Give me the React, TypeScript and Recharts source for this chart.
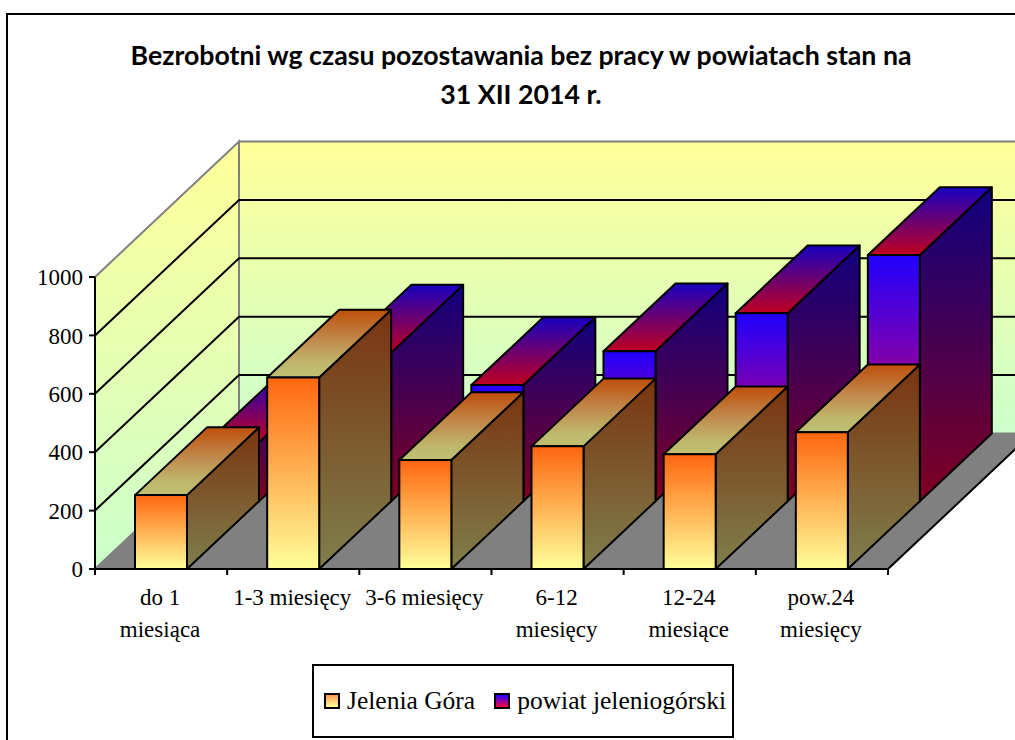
import { BarChart, Bar, XAxis, YAxis, Legend, usePlotArea } from 'recharts'

const categories = ['do 1\nmiesiąca', '1-3 miesięcy', '3-6 miesięcy', '6-12\nmiesięcy', '12-24\nmiesiące', 'pow.24\nmiesięcy']
const jeleniaGora = [253, 656, 373, 420, 393, 468]
const powiat = [202, 509, 398, 514, 644, 843]
const yTicks = [0, 200, 400, 600, 800, 1000]
const titleLines = ['Bezrobotni wg czasu pozostawania bez pracy w powiatach stan na', '31 XII 2014 r.']

const chartData = categories.map((name, i) => ({
  name,
  jelenia: jeleniaGora[i],
  powiat: powiat[i],
}))

// 3D look: how far the back wall and one bar row are shifted
const WALL_DX = 144
const WALL_DY = 135.5
const ROW_DX = 72
const ROW_DY = 67.75
const SERIF = '"Liberation Serif", serif'

function Gradient({ id, stops }: { id: string; stops: [number, string][] }) {
  return (
    <linearGradient id={id} x1="0" y1="0" x2="0" y2="1">
      {stops.map(([o, c]) => (
        <stop key={o} offset={o} stopColor={c} />
      ))}
    </linearGradient>
  )
}

function Walls() {
  const plot = usePlotArea()
  if (!plot) return null
  const left = plot.x
  const right = plot.x + plot.width
  const top = plot.y
  const bottom = plot.y + plot.height
  const bx = left + WALL_DX
  const by = bottom - WALL_DY
  const ty = top - WALL_DY
  const inner = yTicks.slice(1, -1)
  return (
    <g>
      <defs>
        <Gradient id="wall" stops={[[0, '#ffff99'], [1, '#ccffcc']]} />
        <Gradient id="jFront" stops={[[0, '#ff6610'], [1, '#ffff99']]} />
        <Gradient id="jSide" stops={[[0, '#7a3410'], [1, '#7f7f4c']]} />
        <Gradient id="jTop" stops={[[0, '#bf4f0c'], [0.45, '#c08a4c'], [0.8, '#bfb86c'], [1, '#bfbf72']]} />
        <Gradient id="pFront" stops={[[0, '#2000ff'], [1, '#ff0040']]} />
        <Gradient id="pSide" stops={[[0, '#10007f'], [1, '#7f0020']]} />
        <Gradient id="pTop" stops={[[0, '#1800c0'], [1, '#c00020']]} />
      </defs>
      <path d="M7 740V14H1015" fill="none" stroke="#000" strokeWidth={2} />
      {titleLines.map((line, i) => (
        <text
          key={line}
          x={521}
          y={65 + i * 39}
          textAnchor="middle"
          fontFamily="Lato, sans-serif"
          fontWeight={700}
          fontSize={26.7}
          fill="#000"
        >
          {line}
        </text>
      ))}
      <polygon points={`${left},${top} ${bx},${ty} ${bx},${by} ${left},${bottom}`} fill="url(#wall)" stroke="#808080" strokeWidth={2} />
      <polygon points={`${bx},${ty} ${right + WALL_DX},${ty} ${right + WALL_DX},${by} ${bx},${by}`} fill="url(#wall)" stroke="#808080" strokeWidth={2} />
      <polygon points={`${left},${bottom} ${bx},${by} ${right + WALL_DX},${by} ${right},${bottom}`} fill="#808080" />
      <line x1={right} y1={bottom} x2={right + WALL_DX} y2={by} stroke="#000" strokeWidth={2} />
      {inner.map((t) => {
        const y = bottom - (t / 1000) * plot.height
        return (
          <polyline
            key={t}
            points={`${left},${y} ${bx},${y - WALL_DY} ${right + WALL_DX},${y - WALL_DY}`}
            fill="none"
            stroke="#000"
            strokeWidth={2}
          />
        )
      })}
    </g>
  )
}

function Box(props: any) {
  const { x, y, width, height, row, front, side, top } = props
  const fx = x + row * ROW_DX
  const fy = y - row * ROW_DY
  const line = { stroke: '#000', strokeWidth: 2, strokeLinejoin: 'round' as const }
  return (
    <g>
      <polygon
        points={`${fx + width},${fy} ${fx + width + ROW_DX},${fy - ROW_DY} ${fx + width + ROW_DX},${fy + height - ROW_DY} ${fx + width},${fy + height}`}
        fill={`url(#${side})`}
        {...line}
      />
      <polygon
        points={`${fx},${fy} ${fx + ROW_DX},${fy - ROW_DY} ${fx + width + ROW_DX},${fy - ROW_DY} ${fx + width},${fy}`}
        fill={`url(#${top})`}
        {...line}
      />
      <rect x={fx} y={fy} width={width} height={height} fill={`url(#${front})`} {...line} />
    </g>
  )
}

function CategoryTick(props: any) {
  const { x, y, payload, index } = props
  const half = 66.1
  const axisY = y - 2
  const lines = String(payload.value).split('\n')
  return (
    <g>
      <line x1={x - half} y1={569} x2={x - half} y2={575} stroke="#000" strokeWidth={2} />
      {index === categories.length - 1 && (
        <line x1={x + half} y1={569} x2={x + half} y2={575} stroke="#000" strokeWidth={2} />
      )}
      {lines.map((l: string, i: number) => (
        <text key={l} x={x - 1} y={axisY + 30 + i * 32} textAnchor="middle" fontFamily={SERIF} fontSize={23} fill="#000">
          {l}
        </text>
      ))}
    </g>
  )
}

const legendSwatch: Record<string, string> = {
  'Jelenia Góra': 'linear-gradient(#ff9a50, #ffff99)',
  'powiat jeleniogórski': 'linear-gradient(#2000ff, #ff0040)',
}

function ChartLegend({ payload }: any) {
  // zero-height holder so the legend takes nothing away from the plot
  return (
    <div style={{ height: 0 }}>
      <div
        style={{
          boxSizing: 'border-box',
          width: 422,
          height: 74,
          border: '2px solid #000',
          display: 'flex',
          alignItems: 'center',
          paddingLeft: 10,
          fontFamily: SERIF,
          fontSize: 25.5,
          color: '#000',
          background: '#fff',
          whiteSpace: 'nowrap',
        }}
      >
        {(payload ?? []).map((it: any) => (
          <span key={it.value} style={{ display: 'flex', alignItems: 'center', marginRight: 19 }}>
            <span
              style={{
                boxSizing: 'border-box',
                width: 16,
                height: 16,
                border: '2px solid #000',
                background: legendSwatch[it.value],
                marginRight: 7,
              }}
            />
            {it.value}
          </span>
        ))}
      </div>
    </div>
  )
}

export default function App() {
  return (
    <div style={{ position: 'absolute', left: 0, top: 0 }}>
      <BarChart
        width={1015}
        height={740}
        data={chartData}
        barSize={52}
        barGap={-52}
        margin={{ top: 277, right: 127, bottom: 0, left: 0 }}
      >
        <Walls />
        <YAxis
          width={95}
          domain={[0, 1000]}
          ticks={yTicks}
          interval={0}
          tickSize={6}
          tickMargin={6}
          axisLine={{ stroke: '#000', strokeWidth: 2 }}
          tickLine={{ stroke: '#000', strokeWidth: 2 }}
          tick={{ fontFamily: SERIF, fontSize: 23, fill: '#000' }}
        />
        <XAxis
          dataKey="name"
          height={171}
          interval={0}
          axisLine={{ stroke: '#000', strokeWidth: 2 }}
          tickLine={false}
          tick={CategoryTick}
        />
        <Bar
          dataKey="powiat"
          name="powiat jeleniogórski"
          fill="#2000ff"
          isAnimationActive={false}
          shape={(p: any) => <Box {...p} row={1} front="pFront" side="pSide" top="pTop" />}
        />
        <Bar
          dataKey="jelenia"
          name="Jelenia Góra"
          fill="#ff6610"
          isAnimationActive={false}
          shape={(p: any) => <Box {...p} row={0} front="jFront" side="jSide" top="jTop" />}
        />
        <Legend
          layout="vertical"
          align="center"
          verticalAlign="bottom"
          content={<ChartLegend />}
          wrapperStyle={{ left: 312, top: 664, bottom: 'auto', width: 422 }}
        />
      </BarChart>
    </div>
  )
}
